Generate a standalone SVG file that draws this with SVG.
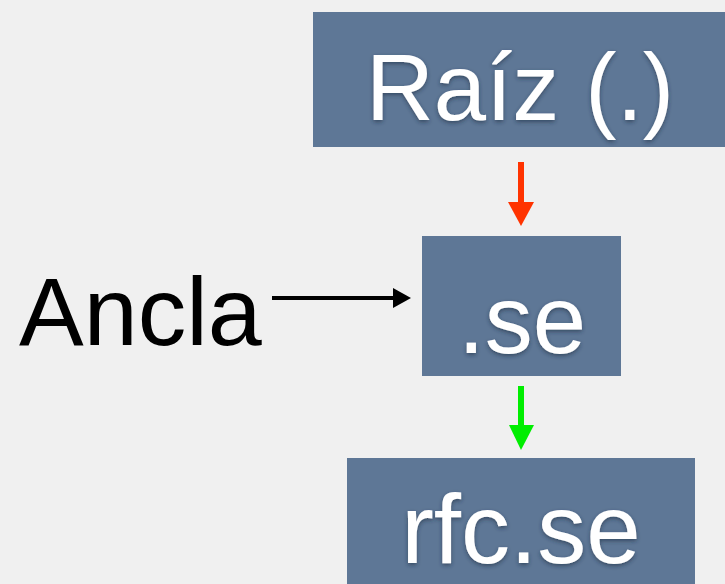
<svg xmlns="http://www.w3.org/2000/svg" width="725" height="584" viewBox="0 0 725 584">
  <defs>
    <style>
      .box { fill: #5e7796; }
      .label { font-family: "Liberation Sans", "DejaVu Sans", sans-serif; fill: #ffffff; text-anchor: middle; }
      .plain { font-family: "Liberation Sans", "DejaVu Sans", sans-serif; fill: #000000; }
    </style>
    <filter id="soft" x="-10%" y="-10%" width="120%" height="130%">
      <feDropShadow dx="0" dy="2" stdDeviation="2" flood-color="#1e2c40" flood-opacity="0.6"/>
    </filter>
  </defs>

  <!-- paper background -->
  <rect x="0" y="0" width="725" height="584" fill="#f0f0f0"/>

  <!-- nodes -->
  <g id="raiz">
    <rect class="box" x="313" y="12" width="412" height="135"/>
    <text class="label" x="520" y="120" font-size="94" filter="url(#soft)">Raíz (.)</text>
  </g>

  <g id="se">
    <rect class="box" x="422" y="236" width="199" height="140"/>
    <text class="label" x="522" y="353" font-size="96" filter="url(#soft)">.se</text>
  </g>

  <g id="rfc-se">
    <rect class="box" x="347" y="458" width="348" height="126"/>
    <text class="label" x="521" y="563" font-size="98" filter="url(#soft)">rfc.se</text>
  </g>

  <g id="ancla">
    <text class="plain" x="19" y="345" font-size="97">Ancla</text>
  </g>

  <!-- connectors -->
  <g id="connectors">
    <line x1="521" y1="162" x2="521" y2="206" stroke="#ff3300" stroke-width="6"/>
    <polygon points="508,202 534,202 521,226" fill="#ff3300"/>

    <line x1="521" y1="386" x2="521" y2="429" stroke="#00ee00" stroke-width="6"/>
    <polygon points="509,425 534,425 521,450" fill="#00ee00"/>

    <line x1="272" y1="298" x2="398" y2="298" stroke="#000000" stroke-width="4"/>
    <polygon points="393,288 411,298 393,308" fill="#000000"/>
  </g>
</svg>
